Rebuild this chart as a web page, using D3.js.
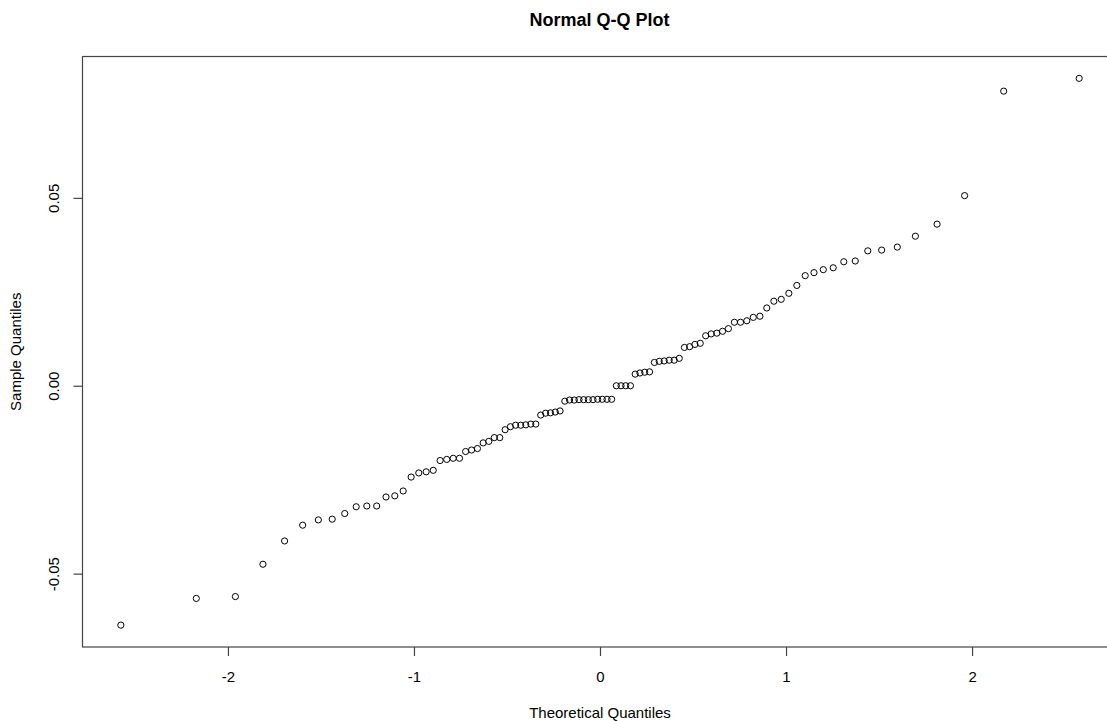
<!DOCTYPE html>
<html>
<head>
<meta charset="utf-8">
<title>Normal Q-Q Plot</title>
<script src="https://cdn.jsdelivr.net/npm/d3@7"></script>
<style>
  body { margin: 0; background: #fff; }
  text { font-family: "Liberation Sans", Arial, sans-serif; fill: #000; }
</style>
</head>
<body>
<svg id="drawing_region"></svg>
<script>
// theoretical quantiles (x) and sorted sample values (y)
var theoretical = [
    -2.5758, -2.1701, -1.9600, -1.8119, -1.6954, -1.5982, -1.5141, -1.4395, -1.3722, -1.3106,
    -1.2536, -1.2004, -1.1503, -1.1031, -1.0581, -1.0152, -0.9741, -0.9346, -0.8965, -0.8596,
    -0.8239, -0.7892, -0.7554, -0.7225, -0.6903, -0.6588, -0.6280, -0.5978, -0.5681, -0.5388,
    -0.5101, -0.4817, -0.4538, -0.4261, -0.3989, -0.3719, -0.3451, -0.3186, -0.2924, -0.2663,
    -0.2404, -0.2147, -0.1891, -0.1637, -0.1383, -0.1130, -0.0878, -0.0627, -0.0376, -0.0125,
    0.0125, 0.0376, 0.0627, 0.0878, 0.1130, 0.1383, 0.1637, 0.1891, 0.2147, 0.2404,
    0.2663, 0.2924, 0.3186, 0.3451, 0.3719, 0.3989, 0.4261, 0.4538, 0.4817, 0.5101,
    0.5388, 0.5681, 0.5978, 0.6280, 0.6588, 0.6903, 0.7225, 0.7554, 0.7892, 0.8239,
    0.8596, 0.8965, 0.9346, 0.9741, 1.0152, 1.0581, 1.1031, 1.1503, 1.2004, 1.2536,
    1.3106, 1.3722, 1.4395, 1.5141, 1.5982, 1.6954, 1.8119, 1.9600, 2.1701, 2.5758
];

var sample = [
    -0.0637, -0.0566, -0.0561, -0.0475, -0.0413, -0.0371, -0.0357, -0.0355, -0.0340, -0.0322,
    -0.0320, -0.0320, -0.0296, -0.0293, -0.0280, -0.0243, -0.0232, -0.0229, -0.0225, -0.0199,
    -0.0196, -0.0193, -0.0193, -0.0175, -0.0171, -0.0167, -0.0152, -0.0148, -0.0138, -0.0138,
    -0.0117, -0.0109, -0.0105, -0.0105, -0.0104, -0.0102, -0.0102, -0.0078, -0.0073, -0.0072,
    -0.0070, -0.0067, -0.0041, -0.0038, -0.0038, -0.0037, -0.0037, -0.0037, -0.0037, -0.0036,
    -0.0036, -0.0036, -0.0036, 0.0000, 0.0000, 0.0000, 0.0000, 0.0031, 0.0034, 0.0036,
    0.0037, 0.0062, 0.0065, 0.0066, 0.0068, 0.0068, 0.0073, 0.0102, 0.0104, 0.0110,
    0.0113, 0.0133, 0.0138, 0.0140, 0.0145, 0.0152, 0.0169, 0.0169, 0.0173, 0.0182,
    0.0185, 0.0207, 0.0225, 0.0230, 0.0246, 0.0267, 0.0293, 0.0301, 0.0309, 0.0314,
    0.0330, 0.0332, 0.0359, 0.0361, 0.0369, 0.0398, 0.0430, 0.0506, 0.0784, 0.0818
];

var xticks = [-2, -1, 0, 1, 2];
var xtick_labels = ["-2", "-1", "0", "1", "2"];
var yticks = [-0.05, 0, 0.05];
var ytick_labels = ["-0.05", "0.00", "0.05"];

var config = {
    width: 1107,
    height: 721,
    // plot region in pixels (right edge falls outside the window)
    left: 82.5, right: 1117.5, top: 56.5, bottom: 647
};

var data = theoretical.map((t, i) => ({ x: t, y: sample[i] }));

// R style axis range: data range widened by 4% on each side
function widen(ext) {
    var pad = (ext[1] - ext[0]) * 0.04;
    return [ext[0] - pad, ext[1] + pad];
}

var svg = d3.select('#drawing_region')
    .attr('width', config.width)
    .attr('height', config.height);

var xscale = d3.scaleLinear()
    .domain(widen(d3.extent(data, d => d.x)))
    .range([config.left, config.right]);

var yscale = d3.scaleLinear()
    .domain(widen(d3.extent(data, d => d.y)))
    .range([config.bottom, config.top]);

// axes
var xaxis = d3.axisBottom(xscale)
    .tickValues(xticks)
    .tickFormat((d, i) => xtick_labels[i])
    .tickSize(9);

var yaxis = d3.axisLeft(yscale)
    .tickValues(yticks)
    .tickFormat((d, i) => ytick_labels[i])
    .tickSize(9);

var xaxis_group = svg.append('g')
    .attr('transform', `translate(0, ${config.bottom})`)
    .call(xaxis);

var yaxis_group = svg.append('g')
    .attr('transform', `translate(${config.left}, 0)`)
    .call(yaxis);

[xaxis_group, yaxis_group].forEach(g => {
    g.select('.domain').remove();
    g.selectAll('.tick line').attr('stroke', '#444').attr('stroke-width', 1.2);
    g.selectAll('.tick text')
        .style('font-family', '"Liberation Sans", Arial, sans-serif')
        .style('font-size', '15px')
        .attr('fill', '#000');
});

xaxis_group.selectAll('.tick text').attr('dy', null).attr('y', 34.5);

yaxis_group.selectAll('.tick text')
    .attr('x', null).attr('dy', null)
    .attr('text-anchor', 'middle')
    .attr('transform', 'translate(-23.5, 0) rotate(-90)');

// box
svg.append('rect')
    .attr('x', config.left)
    .attr('y', config.top)
    .attr('width', config.right - config.left)
    .attr('height', config.bottom - config.top)
    .attr('fill', 'none')
    .attr('stroke', '#444')
    .attr('stroke-width', 1.2);

// points
svg.append('g')
    .selectAll('circle')
    .data(data)
    .join('circle')
    .attr('cx', d => xscale(d.x))
    .attr('cy', d => yscale(d.y))
    .attr('r', 3.1)
    .attr('fill', 'none')
    .attr('stroke', '#000')
    .attr('stroke-width', 1);

// title and labels
svg.append('text')
    .attr('x', (config.left + config.right) / 2 - 0.5)
    .attr('y', 25.5)
    .attr('text-anchor', 'middle')
    .style('font-size', '18px')
    .style('font-weight', 'bold')
    .text('Normal Q-Q Plot');

svg.append('text')
    .attr('x', (config.left + config.right) / 2)
    .attr('y', 717.5)
    .attr('text-anchor', 'middle')
    .style('font-size', '15px')
    .text('Theoretical Quantiles');

svg.append('text')
    .attr('transform', `translate(21, ${(config.top + config.bottom) / 2}) rotate(-90)`)
    .attr('text-anchor', 'middle')
    .style('font-size', '15px')
    .text('Sample Quantiles');
</script>
</body>
</html>
